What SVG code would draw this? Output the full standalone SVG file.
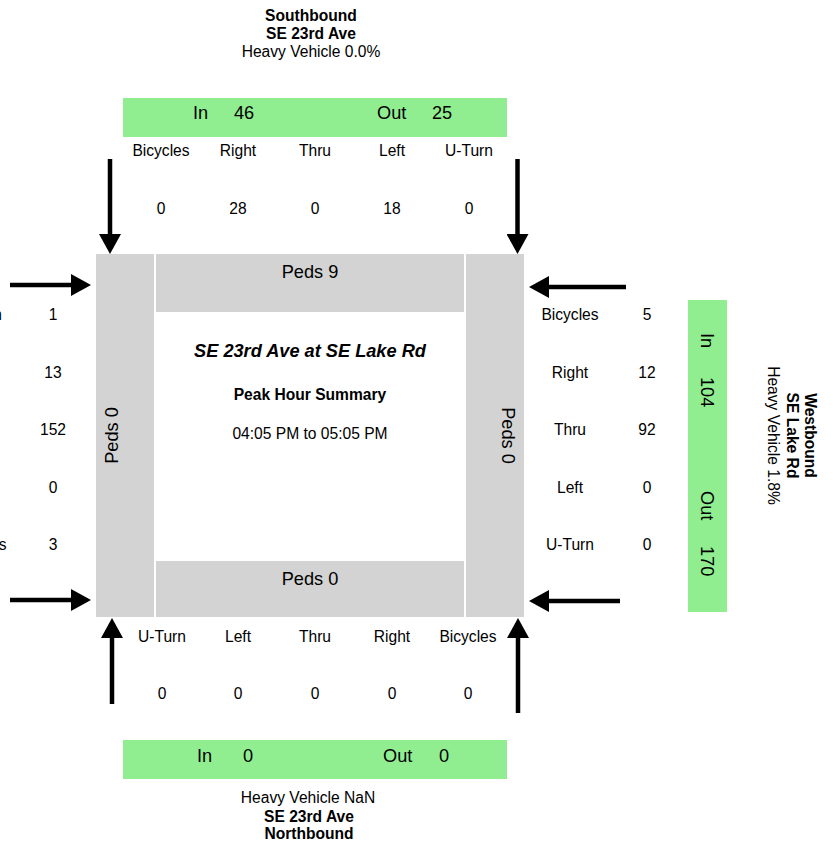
<svg xmlns="http://www.w3.org/2000/svg" width="833" height="846" viewBox="0 0 833 846">
<style>
text{font-family:"Liberation Sans",Arial,sans-serif;fill:#000;}
.s{font-size:15.6px;}
.b{font-size:15.6px;font-weight:bold;}
.l{font-size:18.2px;}
.m{text-anchor:middle;}
.gray{fill:#d3d3d3;}
.green{fill:#90ee90;}
.arr{stroke:#000;stroke-width:4.5;fill:none;marker-end:url(#ah);}
</style>
<defs>
<marker id="ah" markerUnits="userSpaceOnUse" viewBox="0 0 20 22" markerWidth="20" markerHeight="22" refX="0" refY="11" orient="auto">
<path d="M0,0 L20,11 L0,22 Z" fill="#000"/>
</marker>
</defs>
<rect width="833" height="846" fill="#fff"/>

<g id="intersection">
<rect class="gray" x="96" y="254" width="58" height="363"/>
<rect class="gray" x="466" y="254" width="58" height="363"/>
<rect class="gray" x="156" y="254" width="308" height="58"/>
<rect class="gray" x="156" y="561" width="308" height="56"/>
<text class="l m" x="310" y="278">Peds 9</text>
<text class="l m" x="310" y="585">Peds 0</text>
<text class="l m" transform="translate(118,435.5) rotate(-90)">Peds 0</text>
<text class="l m" transform="translate(502,435.5) rotate(90)">Peds 0</text>
<text class="m" x="310" y="357" font-size="18.2" font-weight="bold" font-style="italic">SE 23rd Ave at SE Lake Rd</text>
<text class="b m" x="310" y="400">Peak Hour Summary</text>
<text class="s m" x="310" y="439">04:05 PM to 05:05 PM</text>
</g>

<g id="southbound">
<text class="b m" x="311" y="21">Southbound</text>
<text class="b m" x="311" y="39">SE 23rd Ave</text>
<text class="s m" x="311" y="57">Heavy Vehicle 0.0%</text>
<rect class="green" x="123" y="98" width="384" height="39"/>
<text class="l" x="193" y="119">In</text>
<text class="l" x="234" y="119">46</text>
<text class="l" x="377" y="119">Out</text>
<text class="l" x="432" y="119">25</text>
<text class="s m" x="161" y="156">Bicycles</text>
<text class="s m" x="238" y="156">Right</text>
<text class="s m" x="315" y="156">Thru</text>
<text class="s m" x="392" y="156">Left</text>
<text class="s m" x="469" y="156">U-Turn</text>
<text class="s m" x="161" y="214">0</text>
<text class="s m" x="238" y="214">28</text>
<text class="s m" x="315" y="214">0</text>
<text class="s m" x="392" y="214">18</text>
<text class="s m" x="469" y="214">0</text>
</g>

<g id="northbound">
<text class="s m" x="162" y="642">U-Turn</text>
<text class="s m" x="238" y="642">Left</text>
<text class="s m" x="315" y="642">Thru</text>
<text class="s m" x="392" y="642">Right</text>
<text class="s m" x="468" y="642">Bicycles</text>
<text class="s m" x="162" y="699">0</text>
<text class="s m" x="238" y="699">0</text>
<text class="s m" x="315" y="699">0</text>
<text class="s m" x="392" y="699">0</text>
<text class="s m" x="468" y="699">0</text>
<rect class="green" x="123" y="740" width="384" height="39"/>
<text class="l" x="197" y="762">In</text>
<text class="l" x="243" y="762">0</text>
<text class="l" x="383" y="762">Out</text>
<text class="l" x="439" y="762">0</text>
<text class="s m" x="308" y="803">Heavy Vehicle NaN</text>
<text class="b m" x="309" y="822">SE 23rd Ave</text>
<text class="b m" x="309" y="839">Northbound</text>
</g>

<g id="westbound">
<text class="s m" x="570" y="320">Bicycles</text>
<text class="s m" x="570" y="378">Right</text>
<text class="s m" x="570" y="435">Thru</text>
<text class="s m" x="570" y="493">Left</text>
<text class="s m" x="570" y="550">U-Turn</text>
<text class="s m" x="647" y="320">5</text>
<text class="s m" x="647" y="378">12</text>
<text class="s m" x="647" y="435">92</text>
<text class="s m" x="647" y="493">0</text>
<text class="s m" x="647" y="550">0</text>
<rect class="green" x="688" y="300" width="39" height="312"/>
<text class="l" transform="translate(701,333) rotate(90)">In</text>
<text class="l" transform="translate(701,377) rotate(90)">104</text>
<text class="l" transform="translate(701,491) rotate(90)">Out</text>
<text class="l" transform="translate(701,546) rotate(90)">170</text>
<text class="b m" transform="translate(805,435.5) rotate(90)">Westbound</text>
<text class="b m" transform="translate(787,435.5) rotate(90)">SE Lake Rd</text>
<text class="s m" transform="translate(768,435.5) rotate(90)">Heavy Vehicle 1.8%</text>
</g>

<g id="eastbound">
<text class="s m" x="-22" y="320">U-Turn</text>
<text class="s m" x="-22" y="550">Bicycles</text>
<text class="s m" x="53" y="320">1</text>
<text class="s m" x="53" y="378">13</text>
<text class="s m" x="53" y="435">152</text>
<text class="s m" x="53" y="493">0</text>
<text class="s m" x="53" y="550">3</text>
</g>

<g id="connectors">
<line class="arr" x1="110" y1="159" x2="110" y2="234"/>
<line class="arr" x1="517.5" y1="159" x2="517.5" y2="234"/>
<line class="arr" x1="10" y1="285" x2="71" y2="285"/>
<line class="arr" x1="10" y1="600" x2="71" y2="600"/>
<line class="arr" x1="626" y1="287" x2="549" y2="287"/>
<line class="arr" x1="620" y1="601" x2="549" y2="601"/>
<line class="arr" x1="112" y1="704" x2="112" y2="638"/>
<line class="arr" x1="518" y1="713" x2="518" y2="638"/>
</g>
</svg>
